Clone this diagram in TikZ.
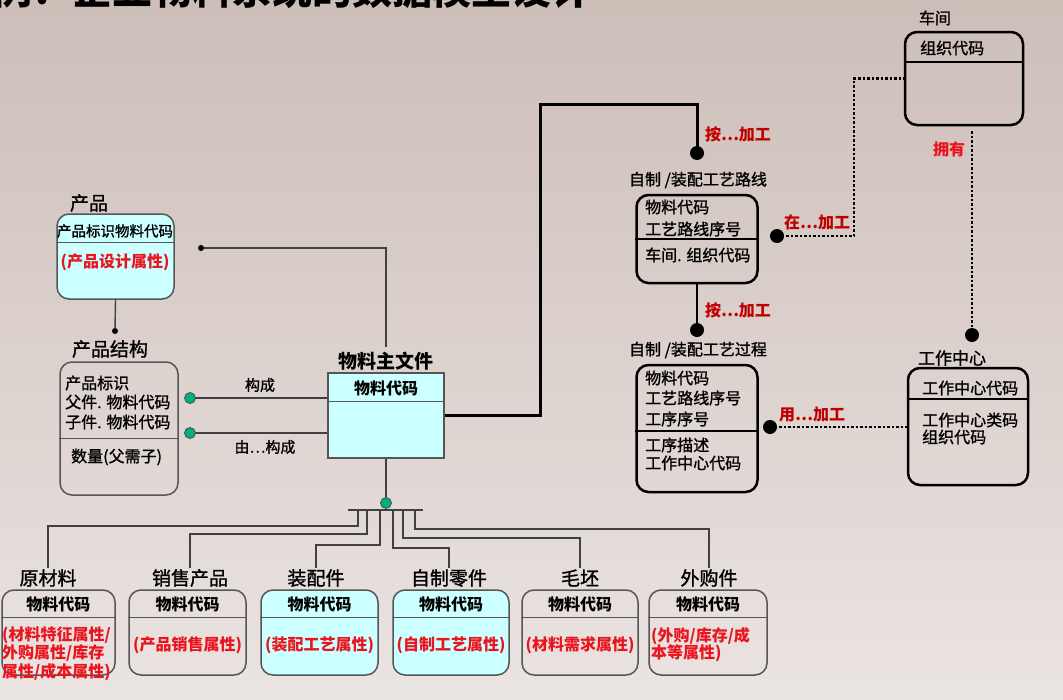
\documentclass[tikz,border=0pt]{standalone}
\usepackage{fontspec}
\setmainfont{Noto Sans CJK SC}
\newfontfamily\medfont{Noto Sans CJK SC}[FakeBold=1.2]
\usetikzlibrary{calc}
\definecolor{cyanfill}{RGB}{204,255,255}
\definecolor{lgray}{RGB}{64,64,64}
\definecolor{bgray}{RGB}{85,85,85}
\definecolor{dred}{RGB}{192,0,0}
\definecolor{bred}{RGB}{235,20,30}
\definecolor{dotgreen}{RGB}{0,175,125}
\definecolor{bgtop}{RGB}{205,190,184}
\definecolor{bgbot}{RGB}{234,228,226}
\begin{document}
\begin{tikzpicture}[x=1pt,y=-1pt,
  lbl/.style={inner sep=1pt, font=\medfont\fontsize{19}{21}\selectfont},
  lblb/.style={inner sep=1pt, font=\bfseries\fontsize{19}{21}\selectfont},
  rlbl/.style={inner sep=1pt, font=\medfont\fontsize{16}{18}\selectfont},
  t/.style={inner sep=0pt, font=\medfont\fontsize{16}{18}\selectfont, anchor=west},
  tb/.style={inner sep=0pt, font=\bfseries\fontsize{16}{18}\selectfont},
  rt/.style={inner sep=0pt, font=\bfseries\fontsize{16}{18}\selectfont, text=bred},
  rtl/.style={rt, anchor=west},
  rel/.style={inner sep=0pt, font=\bfseries\fontsize{16}{18}\selectfont, text=dred},
  gbox/.style={draw=bgray, line width=1.5pt, rounded corners=12pt, inner sep=0pt},
  kbox/.style={draw=black, line width=2.5pt, rounded corners=12pt, inner sep=0pt},
  sepg/.style={draw=bgray, line width=1.5pt},
  sepk/.style={draw=black, line width=2.5pt},
  conn/.style={draw=lgray, line width=1.4pt},
  kconn/.style={draw=black, line width=2.2pt},
  thickconn/.style={draw=black, line width=3pt},
  dotl/.style={draw=black, line width=2.5pt, dash pattern=on 2.5pt off 2pt},
  gdot/.style={circle, fill=dotgreen, draw=black!70, line width=0.8pt, inner sep=0pt, minimum size=11pt},
  kdot/.style={circle, fill=black, inner sep=0pt, minimum size=14pt},
  sdot/.style={circle, fill=black, inner sep=0pt, minimum size=6pt},
]
\useasboundingbox (0,0) rectangle (1063,699);
\clip (0,0) rectangle (1063,699);
\shade[top color=bgtop, bottom color=bgbot] (0,0) rectangle (1063,699);

% title (cut off at the top, as in the reference)
\node[inner sep=0pt, font=\bfseries\fontsize{40}{40}\selectfont] (title) at (292,-11) {例：企业物料系统的数据模型设计};

% ---------- boxes ----------
\node[gbox, fill=cyanfill, minimum width=117pt, minimum height=85pt] (prod) at (115.5,256.5) {};
\draw[sepg] ([yshift=-29pt]prod.north west) -- ([yshift=-29pt]prod.north east);
\node[lbl] (prodl) at (89,203) {产品};
\node[inner sep=0pt, font=\medfont\fontsize{14.5}{16}\selectfont] (prodk) at (115,231) {产品标识物料代码};
\node[rt] (prodr) at (115,262) {(产品设计属性)};

\node[gbox, minimum width=118pt, minimum height=133pt] (ps) at (119,428.5) {};
\draw[sepg] ([yshift=-77pt]ps.north west) -- ([yshift=-77pt]ps.north east);
\node[lbl] (psl) at (110,349) {产品结构};
\node[t] (ps1) at (65,383) {产品标识};
\node[t] (ps2) at (65,402) {父件. 物料代码};
\node[t] (ps3) at (65,422) {子件. 物料代码};
\node[t] (ps4) at (71,457) {数量(父需子)};

\node[draw=bgray, line width=1.5pt, fill=cyanfill, inner sep=0pt, minimum width=116pt, minimum height=85pt] (mm) at (386,415.5) {};
\draw[sepg] ([yshift=-29pt]mm.north west) -- ([yshift=-29pt]mm.north east);
\node[lblb] (mml) at (386,361) {物料主文件};
\node[tb] (mmk) at (386,388) {物料代码};

\node[kbox, minimum width=121pt, minimum height=88pt] (route) at (697,239) {};
\draw[sepk] ([yshift=-45pt]route.north west) -- ([yshift=-45pt]route.north east);
\node[rlbl] (routel) at (698,180) {自制 /装配工艺路线};
\node[t] (r1) at (645,207) {物料代码};
\node[t] (r2) at (645,229) {工艺路线序号};
\node[t] (r3) at (645,255) {车间. 组织代码};

\node[kbox, minimum width=121pt, minimum height=127pt] (proc) at (697,428.5) {};
\draw[sepk] ([yshift=-67pt]proc.north west) -- ([yshift=-67pt]proc.north east);
\node[rlbl] (procl) at (698,350) {自制 /装配工艺过程};
\node[t] (p1) at (645,378) {物料代码};
\node[t] (p2) at (645,398) {工艺路线序号};
\node[t] (p3) at (645,419) {工序序号};
\node[t] (p4) at (645,445) {工序描述};
\node[t] (p5) at (645,463) {工作中心代码};

\node[kbox, minimum width=118pt, minimum height=93pt] (cj) at (964,78.5) {};
\draw[sepk] ([yshift=-31pt]cj.north west) -- ([yshift=-31pt]cj.north east);
\node[rlbl] (cjl) at (935,18) {车间};
\node[t] (c1) at (920,48) {组织代码};

\node[kbox, minimum width=120pt, minimum height=117pt] (wc) at (968,426.5) {};
\draw[sepk] ([yshift=-32pt]wc.north west) -- ([yshift=-32pt]wc.north east);
\node[rlbl, font=\medfont\fontsize{17}{19}\selectfont] (wcl) at (952,358) {工作中心};
\node[t] (w1) at (922,388) {工作中心代码};
\node[t] (w2) at (922,420) {工作中心类码};
\node[t] (w3) at (922,437) {组织代码};

% bottom boxes
\node[gbox, minimum width=113pt, minimum height=85pt] (raw) at (58.5,632.5) {};
\node[gbox, minimum width=117pt, minimum height=85pt] (sale) at (187.5,632.5) {};
\node[gbox, fill=cyanfill, minimum width=117pt, minimum height=85pt] (asm) at (319.5,632.5) {};
\node[gbox, fill=cyanfill, minimum width=116pt, minimum height=85pt] (selfp) at (451,632.5) {};
\node[gbox, minimum width=116pt, minimum height=85pt] (blank) at (580,632.5) {};
\node[gbox, minimum width=118pt, minimum height=85pt] (buy) at (708,632.5) {};
\foreach \b in {raw,sale,asm,selfp,blank,buy}{
  \draw[sepg] ([yshift=-28pt]\b.north west) -- ([yshift=-28pt]\b.north east);
  \node[tb] (\b k) at ([yshift=-15pt]\b.north) {物料代码};
}
\node[lbl] (rawl) at (48,578) {原材料};
\node[lbl] (salel) at (190,578) {销售产品};
\node[lbl] (asml) at (316,578) {装配件};
\node[lbl] (selfpl) at (449,578) {自制零件};
\node[lbl] (blankl) at (580,578) {毛坯};
\node[lbl] (buyl) at (709,578) {外购件};

\node[rtl] (raw1) at (2,635) {(材料特征属性/};
\node[rtl] (raw2) at (2,653) {外购属性/库存};
\node[rtl] (raw3) at (2,672) {属性/成本属性)};
\node[rt] (saler) at (187.5,645) {(产品销售属性)};
\node[rt] (asmr) at (319.5,645) {(装配工艺属性)};
\node[rt] (selfpr) at (451,645) {(自制工艺属性)};
\node[rt] (blankr) at (580,645) {(材料需求属性)};
\node[rtl] (buy1) at (651,636) {(外购/库存/成};
\node[rtl] (buy2) at (651,653) {本等属性)};

% ---------- connectors ----------
\coordinate (psd) at (115,331);
\coordinate (pd) at (201,248);
\coordinate (mmtop) at (386,347);
\coordinate (g1) at (190,398);
\coordinate (g2) at (190,433);
\coordinate (g3) at (386,503);
\coordinate (barL) at (348,510);
\coordinate (barR) at (423,510);
\coordinate (b1) at (358,510);
\coordinate (b2) at (367,510);
\coordinate (b3) at (380,510);
\coordinate (b4) at (393,510);
\coordinate (b5) at (403,510);
\coordinate (b6) at (415,510);
\coordinate (d1) at (697,153);
\coordinate (d2) at (697,330);
\coordinate (d3) at (777,236);
\coordinate (d4) at (770,427);
\coordinate (d5) at (972,335);
\coordinate (cjb) at (972,131);

\draw[conn] (prod.south) -- (psd);
\draw[conn] (pd) -| (mmtop);
\draw[conn] (g1) -- (g1 -| mm.west);
\draw[conn] (g2) -- (g2 -| mm.west);
\node[lbl, font=\medfont\fontsize{15}{17}\selectfont] (gl1) at (260,385) {构成};
\node[lbl, font=\medfont\fontsize{15}{17}\selectfont] (gl2) at (265,447) {由…构成};

\draw[conn] (mm.south) -- (g3);
\draw[conn] (barL) -- (barR);
\draw[conn] (b1) -- ++(0,16) -| (rawl.north);
\draw[conn] (b2) -- ++(0,24) -| (salel.north);
\draw[conn] (b3) -- ++(0,35) -| (asml.north);
\draw[conn] (b4) -- ++(0,38) -| (selfpl.north);
\draw[conn] (b5) -- ++(0,28) -| (blankl.north);
\draw[conn] (b6) -- ++(0,19) -| (buyl.north);

\draw[thickconn] (mm.east) -- ++(96,0) -- ++(0,-311) -| (d1);
\draw[kconn] (route.south) -- (d2);
\draw[dotl] (d3) -| ($(cj.west)+(-50,0)$) -- (cj.west);
\draw[dotl] (d4) -- (d4 -| wc.west);
\draw[dotl] (cjb) -- (d5);

\node[rel] (rl1) at (738,134) {按…加工};
\node[rel] (rl2) at (738,310) {按…加工};
\node[rel] (rl3) at (817,222) {在…加工};
\node[rel] (rl4) at (812,415) {用…加工};
\node[rt] (rl5) at (949,149) {拥有};

% dots
\node[sdot] (psdn) at (psd) {};
\node[sdot] (pdn) at (pd) {};
\node[gdot] (g1n) at (g1) {};
\node[gdot] (g2n) at (g2) {};
\node[gdot] (g3n) at (g3) {};
\node[kdot] (d1n) at (d1) {};
\node[kdot] (d2n) at (d2) {};
\node[kdot] (d3n) at (d3) {};
\node[kdot] (d4n) at (d4) {};
\node[kdot] (d5n) at (d5) {};
\end{tikzpicture}
\end{document}
